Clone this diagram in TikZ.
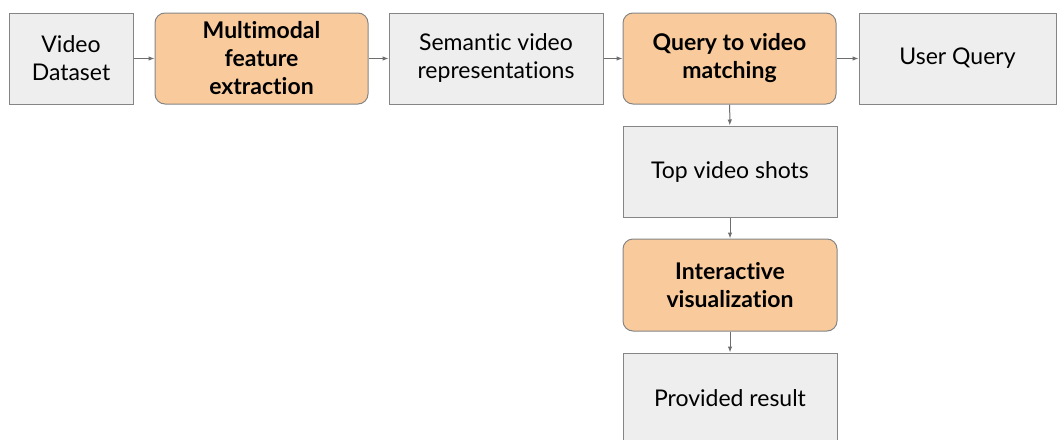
\documentclass[tikz,border=0pt]{standalone}
\usepackage{fontspec}
\setmainfont[Ligatures=NoCommon]{Lato}
\usetikzlibrary{arrows.meta}

\definecolor{boxgray}{HTML}{EEEEEE}
\definecolor{boxline}{HTML}{858585}
\definecolor{arrowgray}{HTML}{6E6E6E}
\definecolor{steporange}{HTML}{F9CB9C}

\begin{document}
\begin{tikzpicture}[x=1pt,y=-1pt]
\tikzset{data/.style={draw=boxline,fill=boxgray,line width=1pt,
        minimum height=91pt,align=center,font=\fontsize{23}{28}\selectfont,
        inner sep=0pt},
    proc/.style={data,fill=steporange,rounded corners=10pt,font=\fontsize{23}{28}\selectfont\bfseries},
    link/.style={draw=arrowgray,line width=1pt,-{Latex[length=6pt,width=4.5pt]}}}
\useasboundingbox (0,0) rectangle (1057,439);
\begin{scope}
\clip (0,0) rectangle (1057,439);
% top row
\node[data,minimum width=124pt] (vd) at (71,58.5) {Video\\Dataset};
\node[proc,minimum width=213pt] (mfe) at (261.5,58.5) {Multimodal\\feature\\extraction};
\node[data,minimum width=214pt] (svr) at (496,58.5) {Semantic video\\representations};
\node[proc,minimum width=213pt] (qvm) at (729.5,58.5) {Query to video\\matching};
\node[data,minimum width=197pt] (uq) at (957.5,58.5) {User Query};
% column below the matching step
\node[data,minimum width=214pt] (tvs) at (730,171.5) {Top video shots};
\node[proc,minimum width=214pt,minimum height=92pt] (iv) at (730,285) {Interactive\\visualization};
\node[data,minimum width=214pt] (pr) at (730,398.5) {Provided result};
\end{scope}
\draw[link] (vd) -- (mfe);
\draw[link] (mfe) -- (svr);
\draw[link] (svr) -- (qvm);
\draw[link] (qvm) -- (uq);
\draw[link] (qvm) -- (tvs);
\draw[link] (tvs) -- (iv);
\draw[link] (iv) -- (pr);
\end{tikzpicture}
\end{document}
